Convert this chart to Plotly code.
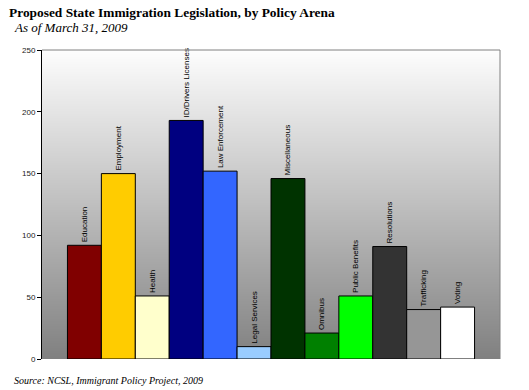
import plotly.graph_objects as go

categories = ["Education", "Employment", "Health", "ID/Drivers Licenses", "Law Enforcement",
              "Legal Services", "Miscellaneous", "Omnibus", "Public Benefits", "Resolutions",
              "Trafficking", "Voting"]
values = [92, 150, 51, 193, 152, 10, 146, 21, 51, 91, 40, 42]
colors = ["#800000", "#FFCC00", "#FFFFCC", "#000080", "#3366FF", "#99CCFF", "#003300",
          "#008000", "#00FF00", "#333333", "#969696", "#FFFFFF"]
y_ticks = [0, 50, 100, 150, 200, 250]

W, H = 529, 390
L, R, T, B = 42, 29, 50, 31
pw, ph = W - L - R, H - T - B


def px_x(x):
    return (x - L) / pw


def px_y(y):
    return (H - B - y) / ph


fig = go.Figure()

# gradient background
fig.add_trace(go.Heatmap(
    x=[-1.25, 12.25], y=[0, 250], z=[[0, 0], [1, 1]], zsmooth="best",
    colorscale=[[0, "#808080"], [1, "#FDFDFD"]], showscale=False, hoverinfo="skip"))

fig.add_trace(go.Bar(
    x=list(range(len(categories))), y=values, width=1,
    marker=dict(color=colors, line=dict(color="black", width=1)),
    text=categories, textposition="outside", textangle=-90,
    textfont=dict(family="Liberation Sans, Arial", size=8, color="black"),
    cliponaxis=False, constraintext="none", hoverinfo="skip"))

fig.update_layout(
    width=W, height=H, margin=dict(l=L, r=R, t=T, b=B),
    paper_bgcolor="white", plot_bgcolor="white", showlegend=False,
    font=dict(family="Liberation Sans, Arial", size=8, color="#222"),
    xaxis=dict(range=[-1.25, 12.25], showgrid=False, zeroline=False, showticklabels=False,
               ticks="", showline=False, fixedrange=True),
    yaxis=dict(range=[0, 250], tickvals=y_ticks, showgrid=True, gridcolor="black", gridwidth=1,
               zeroline=False, showline=True, linecolor="black", linewidth=1,
               ticks="outside", ticklen=4, tickcolor="black",
               tickfont=dict(size=8, color="#222"), fixedrange=True),
    shapes=[
        dict(type="line", xref="paper", yref="paper", x0=0, x1=1, y0=1, y1=1,
             line=dict(color="#808080", width=1)),
        dict(type="line", xref="paper", yref="paper", x0=1, x1=1, y0=0, y1=1,
             line=dict(color="#808080", width=1)),
    ],
    annotations=[
        dict(text="<b>Proposed State Immigration Legislation, by Policy Arena</b>",
             xref="paper", yref="paper", x=px_x(7), y=px_y(12.5), xanchor="left", yanchor="middle",
             showarrow=False, font=dict(family="Liberation Serif, Times New Roman", size=13.4, color="black")),
        dict(text="<i>As of March 31, 2009</i>",
             xref="paper", yref="paper", x=px_x(12), y=px_y(28), xanchor="left", yanchor="middle",
             showarrow=False, font=dict(family="Liberation Serif, Times New Roman", size=13, color="black")),
        dict(text="<i>Source: NCSL, Immigrant Policy Project, 2009</i>",
             xref="paper", yref="paper", x=px_x(12), y=px_y(380), xanchor="left", yanchor="middle",
             showarrow=False, font=dict(family="Liberation Serif, Times New Roman", size=10, color="black")),
    ],
)

fig.write_html("out.html", config={"displayModeBar": False},
               post_script="document.body.style.margin='0';")
